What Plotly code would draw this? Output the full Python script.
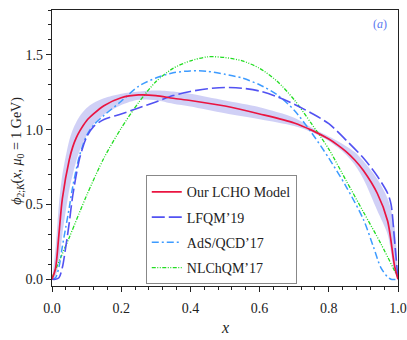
import plotly.graph_objects as go

# LCHO model (central) and its uncertainty band
x_lcho = [0, 0.01, 0.02, 0.03, 0.05, 0.06, 0.07, 0.08, 0.1, 0.12, 0.15, 0.2, 0.25, 0.3, 0.35, 0.4, 0.5,
          0.6, 0.7, 0.75, 0.8, 0.825, 0.85, 0.875, 0.9, 0.94, 0.97, 0.99, 1.0]
y_lcho = [0, 0.07, 0.3, 0.54, 0.8, 0.885, 0.945, 0.99, 1.06, 1.105, 1.16, 1.213, 1.232, 1.228, 1.21, 1.195, 1.158,
          1.105, 1.045, 0.997, 0.937, 0.898, 0.853, 0.797, 0.727, 0.575, 0.39, 0.09, 0]
y_upper = [0, 0.2, 0.5, 0.7, 0.93, 1.0, 1.05, 1.09, 1.145, 1.178, 1.21, 1.24, 1.255, 1.262, 1.255, 1.24, 1.195,
           1.15, 1.08, 1.015, 0.955, 0.925, 0.89, 0.85, 0.79, 0.67, 0.54, 0.35, 0]
y_lower = [0, 0.02, 0.12, 0.3, 0.6, 0.7, 0.79, 0.86, 0.96, 1.035, 1.1, 1.165, 1.2, 1.196, 1.173, 1.155, 1.11,
           1.07, 1.025, 0.985, 0.925, 0.882, 0.832, 0.765, 0.67, 0.46, 0.3, 0.05, 0]

# LFQM'19
x_lfqm = [0, 0.01, 0.02, 0.03, 0.04, 0.05, 0.06, 0.08, 0.1, 0.12, 0.15, 0.2, 0.25, 0.3, 0.35, 0.4,
          0.45, 0.5, 0.55, 0.6, 0.65, 0.7, 0.75, 0.8, 0.85, 0.9, 0.94, 0.97, 0.98, 0.99, 1.0]
y_lfqm = [0, 0, 0.01, 0.08, 0.22, 0.38, 0.56, 0.81, 0.95, 1.02, 1.068, 1.105, 1.145, 1.185, 1.228, 1.255,
          1.274, 1.282, 1.277, 1.258, 1.22, 1.17, 1.11, 1.04, 0.93, 0.81, 0.69, 0.575, 0.5, 0.26, 0]

# AdS/QCD'17
x_ads = [0, 0.01, 0.02, 0.03, 0.04, 0.05, 0.06, 0.08, 0.1, 0.12, 0.15, 0.2, 0.25, 0.3, 0.35, 0.4,
         0.45, 0.5, 0.55, 0.6, 0.65, 0.7, 0.75, 0.8, 0.85, 0.9, 0.93, 0.95, 0.97, 0.98, 1.0]
y_ads = [0, 0.01, 0.08, 0.22, 0.35, 0.48, 0.62, 0.83, 0.96, 1.03, 1.095, 1.19, 1.29, 1.345, 1.38, 1.393,
         1.39, 1.37, 1.345, 1.3, 1.235, 1.13, 0.98, 0.81, 0.62, 0.4, 0.21, 0.08, 0.015, 0, 0]

# NLChQM'17
x_nlch = [0, 0.05, 0.1, 0.15, 0.2, 0.25, 0.3, 0.35, 0.4, 0.45, 0.5, 0.55, 0.6, 0.65, 0.7, 0.75,
          0.8, 0.85, 0.9, 0.95, 1.0]
y_nlch = [0.01, 0.28, 0.56, 0.81, 1.01, 1.18, 1.32, 1.41, 1.46, 1.487, 1.482, 1.46, 1.41, 1.325, 1.2, 1.04,
          0.87, 0.66, 0.45, 0.24, 0.01]

x_ticks = [0.0, 0.2, 0.4, 0.6, 0.8, 1.0]
y_ticks = [0.0, 0.5, 1.0, 1.5]

FONT = "Liberation Serif"

fig = go.Figure()
fig.add_trace(go.Scatter(x=x_lcho, y=y_lower, mode="lines", line=dict(width=0, shape="spline", smoothing=0.8),
                         showlegend=False, hoverinfo="skip"))
fig.add_trace(go.Scatter(x=x_lcho, y=y_upper, mode="lines", line=dict(width=0, shape="spline", smoothing=0.8),
                         fill="tonexty", fillcolor="rgba(120,120,230,0.35)", showlegend=False, hoverinfo="skip"))
fig.add_trace(go.Scatter(x=x_nlch, y=y_nlch, mode="lines", name="NLChQM’17", legendgroup="d", legendrank=4,
                         line=dict(color="#22dd22", width=1.3, dash="4px,1.5px,1px,1.5px,1px,1.5px", shape="spline", smoothing=0.8)))
fig.add_trace(go.Scatter(x=x_ads, y=y_ads, mode="lines", name="AdS/QCD’17", legendgroup="c", legendrank=3,
                         line=dict(color="#3d9bff", width=1.5, dash="7px,3px,2px,3px", shape="spline", smoothing=0.8)))
fig.add_trace(go.Scatter(x=x_lfqm, y=y_lfqm, mode="lines", name="LFQM’19", legendgroup="b", legendrank=2,
                         line=dict(color="#5252f2", width=1.6, dash="13px,4px", shape="spline", smoothing=0.8)))
fig.add_trace(go.Scatter(x=x_lcho, y=y_lcho, mode="lines", name="Our LCHO Model", legendgroup="a", legendrank=1,
                         line=dict(color="#ea1440", width=1.7, shape="spline", smoothing=0.8)))

axis_common = dict(showline=True, linecolor="#222", linewidth=1.2, mirror=True, showgrid=False, zeroline=False,
                   ticks="outside", ticklen=5, tickwidth=1, tickcolor="#222", automargin=False,
                   tickfont=dict(family=FONT, size=14, color="#222"))
fig.update_xaxes(range=[0, 1], tickvals=x_ticks, ticktext=[f"{v:.1f}" for v in x_ticks], ticklabelstandoff=4,
                 minor=dict(dtick=0.04, ticks="outside", ticklen=3, tickcolor="#222", showgrid=False),
                 **axis_common)
fig.update_yaxes(range=[-0.045, 1.8], tickvals=y_ticks, ticktext=[f"{v:.1f}" for v in y_ticks],
                 minor=dict(dtick=0.1, ticks="outside", ticklen=3, tickcolor="#222", showgrid=False),
                 **axis_common)

fig.update_layout(
    width=407, height=340,
    margin=dict(l=52, r=9, t=10, b=54),
    plot_bgcolor="white", paper_bgcolor="white",
    font=dict(family=FONT, color="#222"),
    legend=dict(x=0.271, y=0.006, xanchor="left", yanchor="bottom", bgcolor="white",
                bordercolor="#888", borderwidth=1, font=dict(family=FONT, size=14, color="#222"),
                tracegroupgap=4, traceorder="grouped"),
    annotations=[
        dict(text="<i>x</i>", x=0.5, y=-0.15, xref="paper", yref="paper", showarrow=False,
             font=dict(family=FONT, size=16), yanchor="middle"),
        dict(text="<i>ϕ</i><sub>2;<i>K</i></sub>(<i>x</i>, <i>μ</i><sub>0</sub> = 1 GeV)", x=-0.098, y=0.49,
             xref="paper", yref="paper", showarrow=False, textangle=-90,
             font=dict(family=FONT, size=14), xanchor="center", yanchor="middle"),
        dict(text="(<i>a</i>)", x=0.948, y=0.95, xref="paper", yref="paper", showarrow=False,
             font=dict(family=FONT, size=12, color="#5a78f0"), xanchor="center", yanchor="middle"),
    ],
)

fig.write_html("out.html", config={"displayModeBar": False},
               post_script="document.body.style.margin='0';")
